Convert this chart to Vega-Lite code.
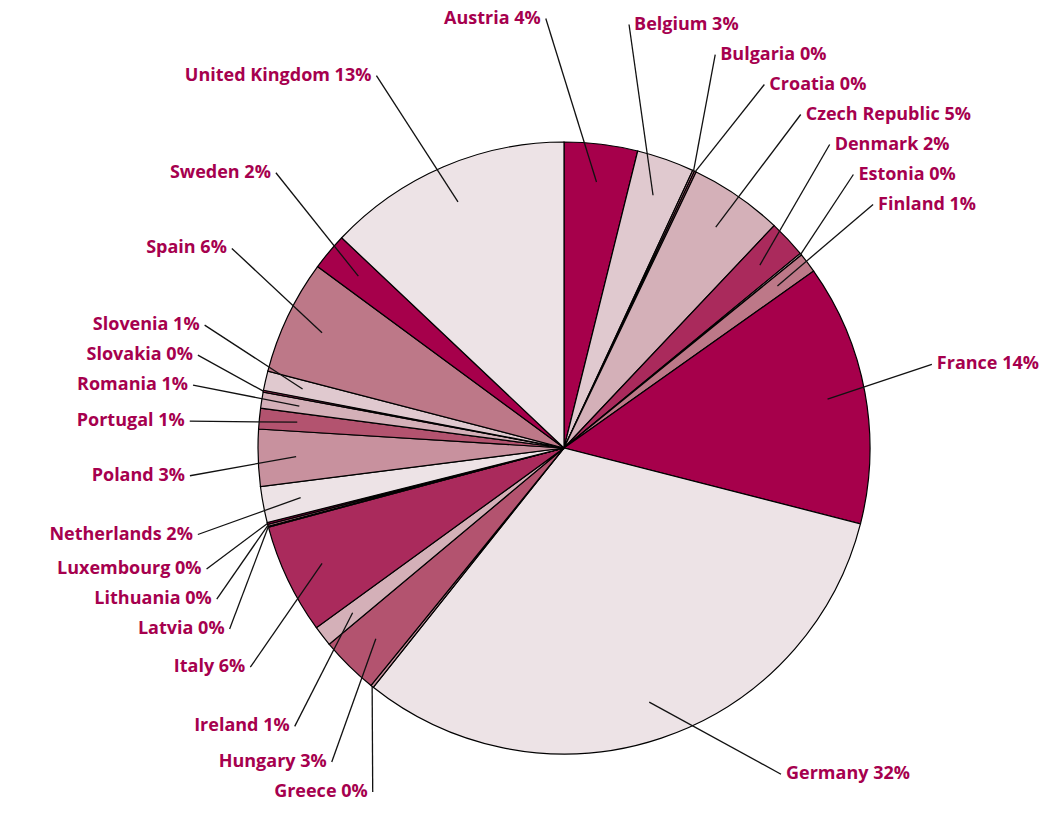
{
  "$schema": "https://vega.github.io/schema/vega-lite/v6.json",
  "autosize": {"type": "none"},
  "padding": {"left": 79, "top": 80, "right": 0, "bottom": 0},
  "width": 970,
  "height": 736,
  "background": "white",
  "config": {"view": {"stroke": null}},
  "data": {
    "values": [
      {"country": "Austria", "value": 3.9, "label": "Austria 4%"},
      {"country": "Belgium", "value": 3.06, "label": "Belgium 3%"},
      {"country": "Bulgaria", "value": 0.1, "label": "Bulgaria 0%"},
      {"country": "Croatia", "value": 0.1, "label": "Croatia 0%"},
      {"country": "Czech Republic", "value": 4.98, "label": "Czech Republic 5%"},
      {"country": "Denmark", "value": 2.0, "label": "Denmark 2%"},
      {"country": "Estonia", "value": 0.1, "label": "Estonia 0%"},
      {"country": "Finland", "value": 1.06, "label": "Finland 1%"},
      {"country": "France", "value": 13.9, "label": "France 14%"},
      {"country": "Germany", "value": 31.96, "label": "Germany 32%"},
      {"country": "Greece", "value": 0.15, "label": "Greece 0%"},
      {"country": "Hungary", "value": 3.08, "label": "Hungary 3%"},
      {"country": "Ireland", "value": 1.1, "label": "Ireland 1%"},
      {"country": "Italy", "value": 5.87, "label": "Italy 6%"},
      {"country": "Latvia", "value": 0.05, "label": "Latvia 0%"},
      {"country": "Lithuania", "value": 0.1, "label": "Lithuania 0%"},
      {"country": "Luxembourg", "value": 0.1, "label": "Luxembourg 0%"},
      {"country": "Netherlands", "value": 1.92, "label": "Netherlands 2%"},
      {"country": "Poland", "value": 3.02, "label": "Poland 3%"},
      {"country": "Portugal", "value": 1.1, "label": "Portugal 1%"},
      {"country": "Romania", "value": 0.85, "label": "Romania 1%"},
      {"country": "Slovakia", "value": 0.1, "label": "Slovakia 0%"},
      {"country": "Slovenia", "value": 1.03, "label": "Slovenia 1%"},
      {"country": "Spain", "value": 6.1, "label": "Spain 6%"},
      {"country": "Sweden", "value": 1.97, "label": "Sweden 2%"},
      {"country": "United Kingdom", "value": 13.04, "label": "United Kingdom 13%"}
    ]
  },
  "transform": [
    {"joinaggregate": [{"op": "sum", "field": "value", "as": "total"}]},
    {"window": [{"op": "sum", "field": "value", "as": "cum"}], "sort": [{"field": "country", "order": "ascending"}], "frame": [null, 0]},
    {"calculate": "(datum.cum - datum.value / 2) / datum.total * 2 * PI", "as": "mid"},
    {"calculate": "datum.value + 1.2", "as": "w"},
    {"joinaggregate": [{"op": "sum", "field": "w", "as": "wtot"}]},
    {"window": [{"op": "sum", "field": "w", "as": "wcum"}], "sort": [{"field": "country", "order": "ascending"}], "frame": [null, 0]},
    {"calculate": "(datum.wcum - datum.w / 2) / datum.wtot * 2 * PI", "as": "la0"},
    {"calculate": "datum.la0 < PI ? datum.la0 - 0.17 : 1.5 * PI + (datum.la0 - 1.5 * PI) * 0.85", "as": "la"},
    {"calculate": "datum.la >= 0 && datum.la < PI ? 'R' : 'L'", "as": "side"},
    {"calculate": "-cos(datum.la) * (cos(datum.la) > 0 ? 430 : 400)", "as": "ty"},
    {"window": [{"op": "row_number", "as": "k"}], "groupby": ["side"], "sort": [{"field": "ty", "order": "ascending"}]},
    {"calculate": "datum.ty - datum.k * 30", "as": "u"},
    {"window": [{"op": "max", "field": "u", "as": "um"}], "groupby": ["side"], "sort": [{"field": "ty", "order": "ascending"}], "frame": [null, 0]},
    {"calculate": "datum.um + datum.k * 30", "as": "ly1"},
    {"window": [{"op": "row_number", "as": "k2"}], "groupby": ["side"], "sort": [{"field": "ly1", "order": "descending"}]},
    {"calculate": "datum.ly1 + datum.k2 * 30", "as": "v"},
    {"window": [{"op": "min", "field": "v", "as": "vm"}], "groupby": ["side"], "sort": [{"field": "ly1", "order": "descending"}], "frame": [null, 0]},
    {"calculate": "min(datum.vm, 385) - datum.k2 * 30", "as": "ly"},
    {"calculate": "(datum.side == 'R' ? 1 : -1) * 375 * sqrt(max(0, 1 - pow(datum.ly / (datum.ly < 0 ? 430 : 400), 2)))", "as": "lx"},
    {"calculate": "datum.value < 0.5 ? 306 : 268", "as": "sr"},
    {"calculate": "datum.sr * sin(datum.mid)", "as": "sx"},
    {"calculate": "-datum.sr * cos(datum.mid)", "as": "sy"}
  ],
  "layer": [
    {
      "mark": {"type": "arc", "outerRadius": 306, "stroke": "#000000", "strokeWidth": 1.2},
      "encoding": {
        "theta": {"field": "value", "type": "quantitative", "stack": true},
        "order": {"field": "country", "sort": "ascending"},
        "color": {
          "field": "country",
          "type": "nominal",
          "legend": null,
          "scale": {
            "domain": ["Austria", "Belgium", "Bulgaria", "Croatia", "Czech Republic", "Denmark", "Estonia", "Finland", "France", "Germany", "Greece", "Hungary", "Ireland", "Italy", "Latvia", "Lithuania", "Luxembourg", "Netherlands", "Poland", "Portugal", "Romania", "Slovakia", "Slovenia", "Spain", "Sweden", "United Kingdom"],
            "range": ["#A6004B", "#E0C9CF", "#C8919E", "#B3536F", "#D4B0B8", "#AA2A5C", "#E0C9CF", "#BD7888", "#A6004B", "#EDE3E6", "#C8919E", "#B3536F", "#D4B0B8", "#AA2A5C", "#E0C9CF", "#BD7888", "#A6004B", "#EDE3E6", "#C8919E", "#B3536F", "#D4B0B8", "#AA2A5C", "#E0C9CF", "#BD7888", "#A6004B", "#EDE3E6"]
          }
        }
      }
    },
    {
      "mark": {"type": "rule", "color": "#111111", "strokeWidth": 1.3},
      "encoding": {
        "x": {"field": "sx", "type": "quantitative", "scale": {"domain": [-485, 485], "zero": false, "nice": false}, "axis": null},
        "y": {"field": "sy", "type": "quantitative", "scale": {"domain": [-368, 368], "zero": false, "nice": false, "reverse": true}, "axis": null},
        "x2": {"field": "lx"},
        "y2": {"field": "ly"}
      }
    },
    {
      "transform": [{"filter": "datum.side == 'R'"}],
      "mark": {"type": "text", "align": "left", "baseline": "middle", "dx": 5, "font": "Open Sans", "fontWeight": "bold", "fontSize": 18, "color": "#A6004E"},
      "encoding": {
        "x": {"field": "lx", "type": "quantitative"},
        "y": {"field": "ly", "type": "quantitative"},
        "text": {"field": "label"}
      }
    },
    {
      "transform": [{"filter": "datum.side == 'L'"}],
      "mark": {"type": "text", "align": "right", "baseline": "middle", "dx": -5, "font": "Open Sans", "fontWeight": "bold", "fontSize": 18, "color": "#A6004E"},
      "encoding": {
        "x": {"field": "lx", "type": "quantitative"},
        "y": {"field": "ly", "type": "quantitative"},
        "text": {"field": "label"}
      }
    }
  ]
}
